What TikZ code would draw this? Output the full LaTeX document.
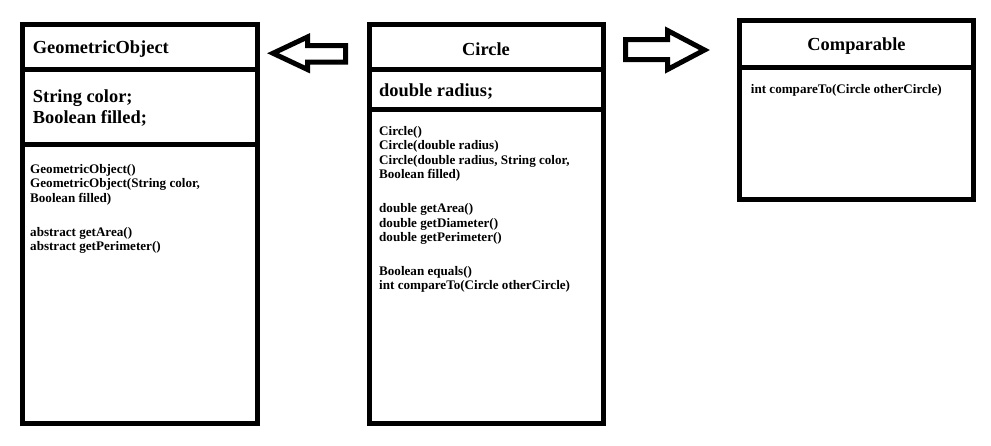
\documentclass[tikz,border=0pt]{standalone}
\usepackage{fontspec}
\setmainfont{Liberation Serif}
\begin{document}
\begin{tikzpicture}[x=1pt,y=-1pt,
        classbox/.style={draw,line width=5pt,outer sep=0pt,inner sep=0pt,minimum width=235pt,anchor=north west},
        divline/.style={line width=5pt},
        blockarrow/.style={line width=5pt,miter limit=10},
        titletext/.style={inner sep=0pt,font=\fontsize{18.4}{20.6}\selectfont\bfseries},
        membertext/.style={inner sep=0pt,anchor=base west,font=\fontsize{13.1}{15}\selectfont\bfseries}]
    \useasboundingbox (0,0) rectangle (991,445);
    % class boxes
    \node[classbox,minimum height=399pt] (geo) at (22.5,24) {};
    \node[classbox,minimum width=233.5pt,minimum height=399pt] (circ) at (369.5,24.5) {};
    \node[classbox,minimum width=234pt,minimum height=178.5pt] (comp) at (739.5,20.5) {};
    \draw[divline] (geo.west |- 0,69.5) -- (geo.east |- 0,69.5);
    \draw[divline] (geo.west |- 0,144) -- (geo.east |- 0,144);
    \draw[divline] (circ.west |- 0,69.5) -- (circ.east |- 0,69.5);
    \draw[divline] (circ.west |- 0,109.5) -- (circ.east |- 0,109.5);
    \draw[divline] (comp.west |- 0,67.5) -- (comp.east |- 0,67.5);
    % titles and fields
    \node[titletext,anchor=base west] (geo-title) at (32.7,53.3) {GeometricObject};
    \node[titletext,anchor=base] (circ-title) at (486,55) {Circle};
    \node[titletext,anchor=base] (comp-title) at (856.5,50) {Comparable};
    \node[titletext,anchor=base west] (geo-f1) at (32.7,102.7) {String color;};
    \node[titletext,anchor=base west] (geo-f2) at (32.7,123.3) {Boolean filled;};
    \node[titletext,anchor=base west] (circ-f1) at (379,96.7) {double radius;};
    % methods
    \foreach \yy/\txt [count=\i] in {173.5/GeometricObject(), 187.8/{GeometricObject(String color,}, 202/Boolean filled), 236.5/abstract getArea(), 250.8/abstract getPerimeter()}
        \node[membertext] (geo-m\i) at (30,\yy) {\txt};
    \foreach \yy/\txt [count=\i] in {135/Circle(), 149.5/Circle(double radius), 164/{Circle(double radius, String color,}, 178.5/Boolean filled), 212.5/double getArea(), 227/double getDiameter(), 241.5/double getPerimeter(), 275/Boolean equals(), 289.5/int compareTo(Circle otherCircle)}
        \node[membertext] (circ-m\i) at (379,\yy) {\txt};
    \node[membertext] (comp-m1) at (750.7,93.3) {int compareTo(Circle otherCircle)};
    % hollow arrows
    \draw[blockarrow] (273,53.25) -- (307.5,37) -- (307.5,45.5) -- (345.5,45.5) -- (345.5,62) -- (307.5,62) -- (307.5,69.5) -- cycle;
    \draw[blockarrow] (704.5,50) -- (667.5,30.5) -- (667.5,39.5) -- (625.5,39.5) -- (625.5,59.5) -- (667.5,59.5) -- (667.5,69.5) -- cycle;
\end{tikzpicture}
\end{document}
